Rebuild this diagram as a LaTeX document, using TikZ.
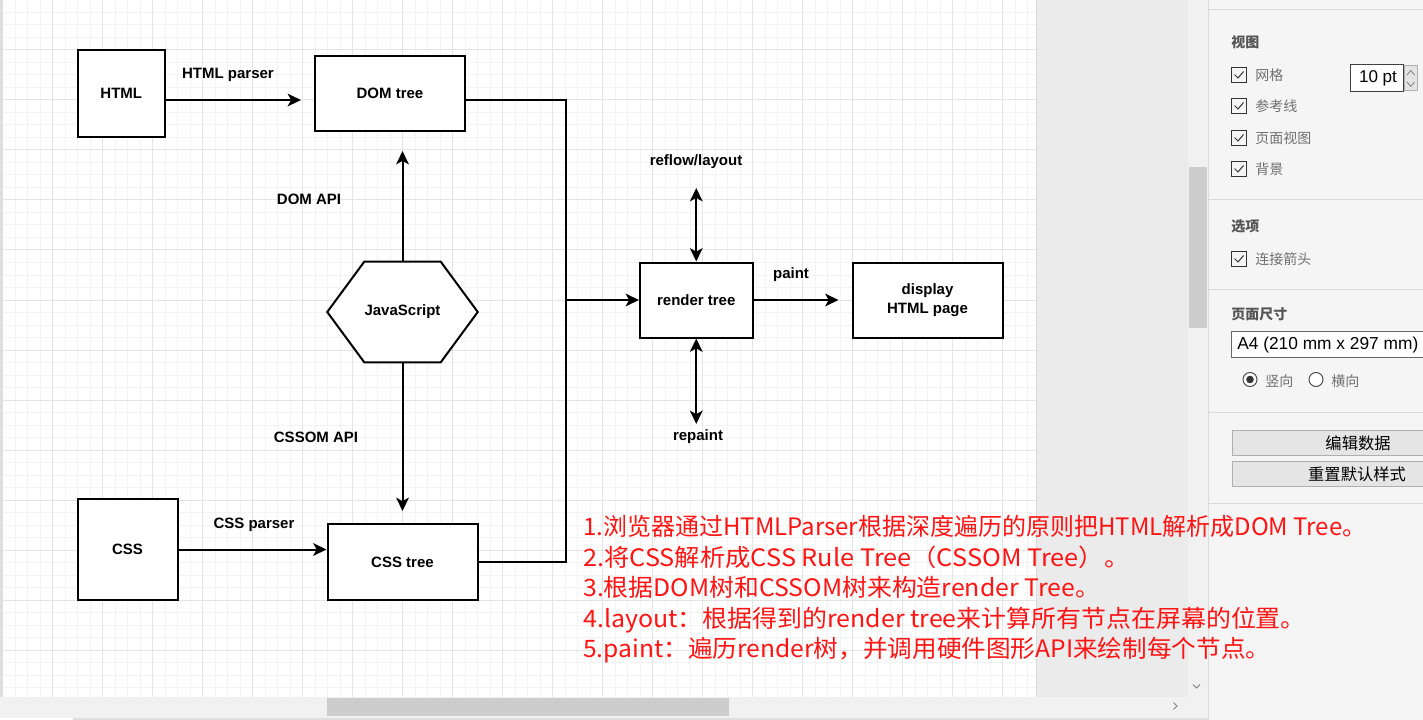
\documentclass[tikz,border=0pt]{standalone}
\usepackage{fontspec}
\usepackage{graphicx}
\setmainfont{Liberation Sans}
\newfontfamily\cjk{Noto Sans CJK SC}
\usetikzlibrary{arrows.meta}
\definecolor{gridmin}{RGB}{243,243,243}
\definecolor{gridmaj}{RGB}{228,228,228}
\definecolor{grayarea}{RGB}{235,235,235}
\definecolor{track}{RGB}{241,241,241}
\definecolor{thumb}{RGB}{205,205,205}
\definecolor{panelbg}{RGB}{245,245,245}
\definecolor{sepline}{RGB}{218,218,218}
\definecolor{edgegray}{RGB}{222,222,222}
\definecolor{headtxt}{RGB}{85,85,85}
\definecolor{itemtxt}{RGB}{112,112,112}
\definecolor{redtxt}{RGB}{255,20,20}
\definecolor{btnbg}{RGB}{229,229,229}
\definecolor{btnborder}{RGB}{175,175,175}
\tikzset{
  box/.style={draw=black, line width=1.5pt, fill=white, inner sep=0,
    font=\bfseries\fontsize{11.25pt}{14pt}\selectfont, align=center},
  lbl/.style={inner sep=0, font=\bfseries\fontsize{11.25pt}{14pt}\selectfont},
  conn/.style={line width=1.5pt},
  arr/.style={line width=1.5pt, -{Stealth[length=10pt,width=9.5pt,inset=2.6pt]}},
  dbl/.style={line width=1.5pt, {Stealth[length=10pt,width=9.5pt,inset=2.6pt]}-{Stealth[length=10pt,width=9.5pt,inset=2.6pt]}},
  redline/.style={anchor=base west, inner sep=0, text=redtxt, font=\cjk\fontsize{18pt}{22pt}\selectfont},
  head/.style={anchor=west, inner sep=0, text=headtxt, font=\cjk\bfseries\fontsize{10.5pt}{12pt}\selectfont},
  item/.style={anchor=west, inner sep=0, text=itemtxt, font=\cjk\fontsize{10.5pt}{12pt}\selectfont},
  cbox/.style={draw=black!80, line width=0.75pt},
  btn/.style={draw=btnborder, fill=btnbg, line width=0.75pt},
  btntxt/.style={inner sep=0, font=\cjk\fontsize{12.2pt}{14pt}\selectfont},
  gmin/.style={draw=gridmin, line width=0.75pt},
  gmaj/.style={draw=gridmaj, line width=0.75pt}
}
\begin{document}
\begin{tikzpicture}[x=0.75pt,y=-0.75pt]
\useasboundingbox (0,0) rectangle (1423,720);
% ---------- backgrounds ----------
\fill[white] (0,0) rectangle (1036,697);
\foreach \gx in {15,27.5,...,1035} \draw[gmin] (\gx,0) -- (\gx,697);
\foreach \gy in {12.5,25,...,697} \draw[gmin] (3,\gy) -- (1036,\gy);
\foreach \gx in {52.5,102.5,...,1035} \draw[gmaj] (\gx,0) -- (\gx,697);
\foreach \gy in {50,100,...,697} \draw[gmaj] (3,\gy) -- (1036,\gy);
\fill[edgegray] (0,0) rectangle (3,697);
\fill[grayarea] (1036,0) rectangle (1188,697);
\draw[sepline, line width=0.75pt] (1036,0) -- (1036,697);
\fill[track] (1188,0) rectangle (1208,697);
\fill[thumb] (1189,167) rectangle (1207,328);
\draw[gray, line width=0.75pt] (1193,684.5) -- (1196.5,688) -- (1200,684.5);
\fill[panelbg] (1208,0) rectangle (1423,720);
\draw[sepline, line width=0.75pt] (1208,0) -- (1208,720);
\fill[track] (0,697) rectangle (1208,717.5);
\fill[thumb] (327,698) rectangle (729,716);
\draw[gray, line width=0.75pt] (1173.5,702.5) -- (1177,706) -- (1173.5,709.5);
\fill[edgegray] (73,717.5) rectangle (1208,720);
% ---------- side panel ----------
\foreach \sy in {10,200,289,412,503} \draw[sepline, line width=0.75pt] (1208,\sy) -- (1423,\sy);
\node[head] (hview) at (1231,42) {视图};
\node[head] (hopt) at (1231,226) {选项};
\node[head] (hpage) at (1231,314) {页面尺寸};
\foreach \cy/\ct in {75/网格, 106/参考线, 138/页面视图, 169/背景, 259/连接箭头} {
  \draw[cbox] (1231.5,\cy-7.5) rectangle (1246.5,\cy+7.5);
  \draw[cbox] (1234.5,\cy-0.5) -- (1238,\cy+3) -- (1243.5,\cy-3.5);
  \node[item] (it\cy) at (1255,\cy) {\ct};
}
\draw[fill=white, draw=black!75, line width=0.75pt] (1350.5,64.5) rectangle (1403.5,91.5);
\node[inner sep=0, font=\fontsize{12.8pt}{14pt}\selectfont] (pt) at (1378,78.5) {10 pt};
\draw[fill=gridmaj, draw=btnborder, line width=0.75pt] (1404.5,66) rectangle (1417,91);
\draw[gray, line width=0.6pt] (1407,75) -- (1410.75,70.5) -- (1414.5,75);
\draw[gray, line width=0.6pt] (1407,82) -- (1410.75,86.5) -- (1414.5,82);
\draw[fill=white, draw=black!60, line width=0.75pt] (1231.5,331.5) rectangle (1430,357.5);
\node[inner sep=0, anchor=west, font=\fontsize{13pt}{15pt}\selectfont] (a4) at (1237,345) {A4 (210 mm x 297 mm)};
\draw[fill=white, draw=black!70, line width=0.75pt] (1250,379.5) circle (7);
\fill[black!80] (1250,379.5) circle (3.8);
\node[item] (portrait) at (1265,381) {竖向};
\draw[fill=white, draw=black!70, line width=0.75pt] (1316,379.5) circle (7);
\node[item] (landscape) at (1331,381) {横向};
\draw[btn] (1232.5,430.5) rectangle (1430,455);
\node[btntxt] (bedit) at (1358,443) {编辑数据};
\draw[btn] (1232.5,461) rectangle (1430,486);
\node[btntxt] (breset) at (1357,474) {重置默认样式};
% ---------- diagram ----------
\node[box, minimum width=65.6pt, minimum height=65.6pt] (html) at (121.25,93.5) {HTML};
\node[box, minimum width=112.5pt, minimum height=56.25pt] (dom) at (390,93.5) {DOM tree};
\node[box, minimum width=75pt, minimum height=75.5pt] (css) at (127.5,549.5) {CSS};
\node[box, minimum width=112.5pt, minimum height=57pt] (csstree) at (402.5,562) {CSS tree};
\node[box, minimum width=84.4pt, minimum height=56.25pt] (render) at (696.25,300) {render tree};
\node[box, minimum width=112.5pt, minimum height=56.25pt] (display) at (927.5,300) {display\\HTML page};
\node[inner sep=0, minimum width=112.5pt, minimum height=75pt] (js) at (402.5,312) {};
\draw[line width=1.5pt, fill=white] (js.west) -- ([xshift=27.75pt]js.north west) -- ([xshift=-27.75pt]js.north east)
  -- (js.east) -- ([xshift=-27.75pt]js.south east) -- ([xshift=27.75pt]js.south west) -- cycle;
\node[lbl] (jstxt) at (js.center) {JavaScript};
\coordinate (join) at (565.5,300);
\coordinate (rf) at (696.25,188);
\coordinate (rp) at (696.25,424);
% connectors
\draw[arr, shorten >=9.75pt] ([yshift=-4.9pt]html.east) -- ([yshift=-4.9pt]html.east -| dom.west);
\draw[conn] ([yshift=-4.9pt]dom.east) -| (join);
\draw[conn] (csstree.east) -| (join);
\draw[arr] (join) -- (render.west);
\draw[arr, shorten >=14.25pt] (js.north) -- (js.north |- dom.south);
\draw[arr, shorten >=9pt] (js.south) -- (csstree.north);
\draw[arr] (css.east) -- (css.east -| csstree.west);
\draw[arr, shorten >=9.75pt] (render.east) -- (display.west);
\draw[dbl] (render.north) -- (rf);
\draw[dbl] (render.south) -- (rp);
% labels
\node[lbl] (lhp) at (228,75) {HTML parser};
\node[lbl] (ldom) at (309,199) {DOM API};
\node[lbl] (lcssom) at (316,437) {CSSOM API};
\node[lbl] (lcssp) at (254,525) {CSS parser};
\node[lbl] (lrf) at (696,162) {reflow/layout};
\node[lbl] (lpaint) at (791,275) {paint};
\node[lbl] (lrp) at (698,437) {repaint};
% ---------- red notes ----------
\node[redline] (n1) at (583,535) {1.浏览器通过HTMLParser根据深度遍历的原则把HTML解析成DOM Tree。};
\node[redline] (n2) at (583,566) {\scalebox{1.055}[1]{2.将CSS解析成CSS Rule Tree（CSSOM Tree）。}};
\node[redline] (n3) at (583,596) {\scalebox{1.036}[1]{3.根据DOM树和CSSOM树来构造render Tree。}};
\node[redline] (n4) at (583,627) {\scalebox{1.039}[1]{4.layout：根据得到的render tree来计算所有节点在屏幕的位置。}};
\node[redline] (n5) at (583,657) {\scalebox{1.026}[1]{5.paint：遍历render树，并调用硬件图形API来绘制每个节点。}};
\end{tikzpicture}
\end{document}
